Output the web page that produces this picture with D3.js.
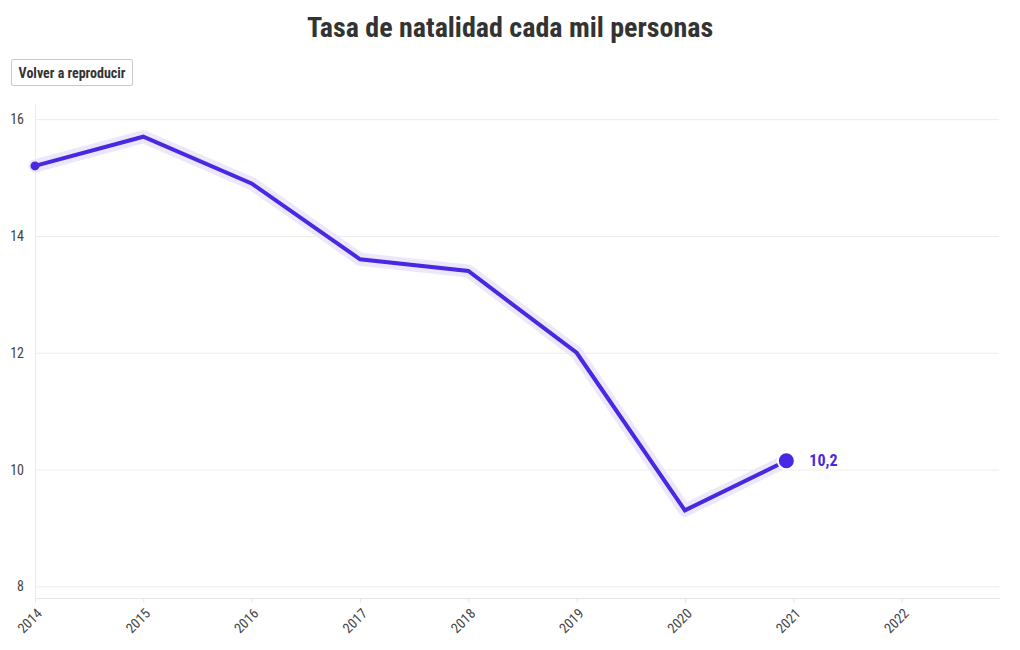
<!DOCTYPE html>
<html>
<head>
<meta charset="utf-8">
<script src="https://cdn.jsdelivr.net/npm/d3@7"></script>
<style>
  html, body { margin: 0; padding: 0; background: #fff; }
  body { width: 1020px; height: 650px; position: relative; overflow: hidden;
         font-family: "Roboto Condensed", "Liberation Sans Narrow", "DejaVu Sans Condensed", Roboto, sans-serif; }
  #btn { position: absolute; left: 11px; top: 59px; width: 122px; height: 27px; box-sizing: border-box;
         border: 1px solid #c8c8c8; border-radius: 2px; background: #fff; color: #333;
         font: bold 14px "Roboto Condensed", "Liberation Sans Narrow", "DejaVu Sans Condensed", Roboto, sans-serif;
         padding: 0; cursor: pointer; }
  svg { position: absolute; left: 0; top: 0; }
</style>
</head>
<body>
<button id="btn">Volver a reproducir</button>
<svg id="chart" width="1020" height="650"></svg>
<script>
const title = "Tasa de natalidad cada mil personas";
const dates = ["2014-01-01","2015-01-01","2016-01-01","2017-01-01","2018-01-01","2019-01-01","2020-01-01","2020-12-08"];
const values = [15.2, 15.7, 14.9, 13.6, 13.4, 12.0, 9.3, 10.15];
const yTicks = [8, 10, 12, 14, 16];
const xTickYears = [2014, 2015, 2016, 2017, 2018, 2019, 2020, 2021, 2022];

const FONT = '"Roboto Condensed", "Liberation Sans Narrow", "DejaVu Sans Condensed", Roboto, sans-serif';
const purple = "#4a27e0";
const halo = "#ebe8fc";

const svg = d3.select("#chart");
const margin = {left: 35, right: 21, top: 104, bottom: 52};
const W = 1020, H = 650;

const parse = d3.timeParse("%Y-%m-%d");
const data = dates.map((d, i) => ({date: parse(d), value: values[i]}));

const x = d3.scaleTime()
  .domain([new Date(2014, 0, 1), new Date(2022, 10, 25)])
  .range([margin.left, W - margin.right]);
const y = d3.scaleLinear()
  .domain([7.8, 16.26])
  .range([H - margin.bottom, margin.top]);

svg.append("text")
  .attr("x", 510).attr("y", 37)
  .attr("text-anchor", "middle")
  .attr("font-family", FONT).attr("font-weight", "bold").attr("font-size", 28)
  .attr("fill", "#333").text(title);

// grid
const gy = svg.append("g")
  .attr("transform", `translate(${margin.left},0)`)
  .call(d3.axisLeft(y).tickValues(yTicks).tickSizeInner(-(W - margin.left - margin.right)).tickSizeOuter(0).tickPadding(11).tickFormat(d3.format("d")));
gy.select(".domain").attr("stroke", "#eaeaea");
gy.selectAll(".tick line").attr("stroke", "#ececec");
gy.selectAll(".tick text").attr("font-family", FONT).attr("font-size", 14).attr("fill", "#444");

const gx = svg.append("g")
  .attr("transform", `translate(0,${H - margin.bottom})`)
  .call(d3.axisBottom(x).tickValues(xTickYears.map(yr => new Date(yr, 0, 1))).tickSizeInner(5).tickSizeOuter(0).tickFormat(d3.timeFormat("%Y")));
gx.select(".domain").attr("stroke", "#e6e6e6");
gx.selectAll(".tick line").attr("stroke", "#e6e6e6");
gx.selectAll(".tick text")
  .attr("font-family", FONT).attr("font-size", 14).attr("fill", "#444")
  .attr("text-anchor", "end")
  .attr("x", 0).attr("y", 0).attr("dy", "0.35em")
  .attr("transform", "translate(4,13) rotate(-45)");

const line = d3.line().x(d => x(d.date)).y(d => y(d.value));

svg.append("path").datum(data)
  .attr("d", line).attr("fill", "none")
  .attr("stroke", halo).attr("stroke-width", 13)
  .attr("stroke-linejoin", "round").attr("stroke-linecap", "round");
svg.append("path").datum(data)
  .attr("d", line).attr("fill", "none")
  .attr("stroke", purple).attr("stroke-width", 4)
  .attr("stroke-linejoin", "miter");

const first = data[0], last = data[data.length - 1];
svg.append("circle").attr("cx", x(first.date)).attr("cy", y(first.value)).attr("r", 4.5).attr("fill", purple);
svg.append("circle").attr("cx", x(last.date)).attr("cy", y(last.value)).attr("r", 8.5)
  .attr("fill", purple).attr("stroke", "#fff").attr("stroke-width", 2);

const fmt = v => (Math.round(v * 10) / 10).toFixed(1).replace(".", ",");
svg.append("text")
  .attr("x", x(last.date) + 23).attr("y", y(last.value))
  .attr("dy", "0.35em")
  .attr("font-family", FONT).attr("font-weight", "bold").attr("font-size", 16)
  .attr("fill", purple).text(fmt(last.value));
</script>
</body>
</html>
